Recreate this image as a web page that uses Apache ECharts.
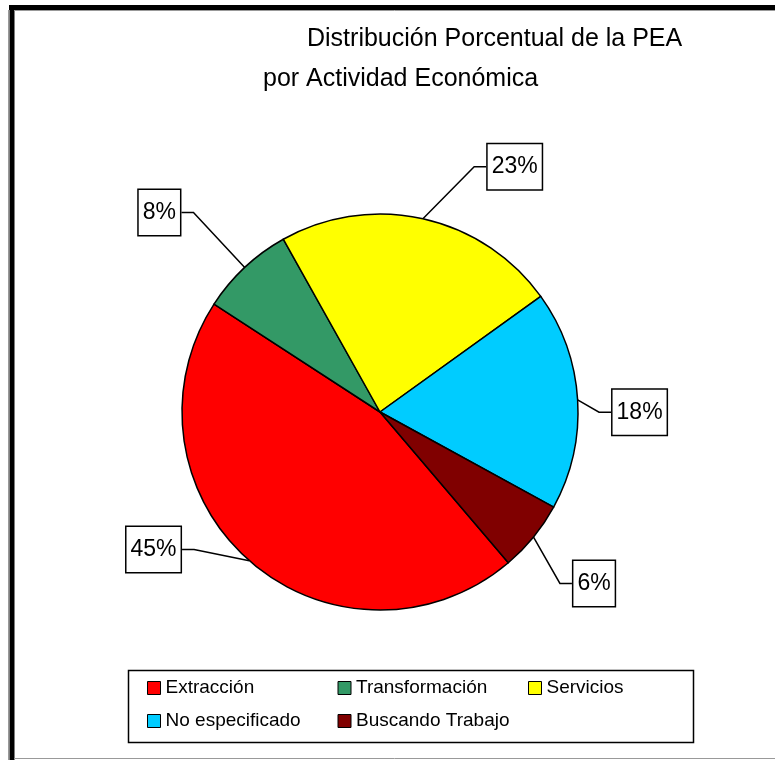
<!DOCTYPE html>
<html>
<head>
<meta charset="utf-8">
<script src="https://cdn.jsdelivr.net/npm/echarts@6/dist/echarts.min.js"></script>
<style>
html,body{margin:0;padding:0;background:#fff;}
#c{width:775px;height:760px;}
</style>
</head>
<body>
<div id="c"></div>
<script>
var categories = ['Extracción', 'Transformación', 'Servicios', 'No especificado', 'Buscando Trabajo'];
var values = [45.4, 7.7, 23.2, 17.9, 5.8];
var colors = ['#FF0000', '#339966', '#FFFF00', '#00CCFF', '#800000'];
var titleLines = ['Distribución Porcentual de la PEA', 'por Actividad Económica'];
// label nudges (px) relative to the library's default outside label placement
var labelNudge = [[-22, -45], [-17, -22], [38, -8], [-27, 15], [-12, 18]];
var elbow = 12;

var FONT = '"Liberation Sans Narrow", "Arial Narrow", "Liberation Sans", Arial, sans-serif';

var data = categories.map(function (c, i) {
  return { name: c, value: values[i], itemStyle: { color: colors[i] } };
});

var chart = echarts.init(document.getElementById('c'), null, { renderer: 'canvas' });
chart.setOption({
  backgroundColor: '#fff',
  animation: false,
  title: [
    { text: titleLines[0], left: 307, top: 27, padding: 0,
      textStyle: { fontFamily: FONT, fontSize: 25, fontWeight: 'normal', color: '#000' } },
    { text: titleLines[1], left: 263, top: 67, padding: 0,
      textStyle: { fontFamily: FONT, fontSize: 25, fontWeight: 'normal', color: '#000' } }
  ],
  legend: {
    data: categories,
    left: 147, top: 678, width: 560,
    padding: 0,
    itemGap: 13,
    itemWidth: 13, itemHeight: 13,
    icon: 'rect',
    itemStyle: { borderColor: '#000', borderWidth: 1 },
    textStyle: { fontFamily: FONT, fontSize: 19, color: '#000', width: 159, lineHeight: 20 },
    selectedMode: false
  },
  graphic: [
    { type: 'line', shape: { x1: 9, y1: 7.5, x2: 775, y2: 7.5 }, style: { stroke: '#000', lineWidth: 5 } },
    { type: 'line', shape: { x1: 12, y1: 5, x2: 12, y2: 760 }, style: { stroke: '#000', lineWidth: 5 } },
    { type: 'line', shape: { x1: 14, y1: 10.5, x2: 775, y2: 10.5 }, style: { stroke: '#999', lineWidth: 1 } },
    { type: 'line', shape: { x1: 8.5, y1: 10, x2: 8.5, y2: 760 }, style: { stroke: '#999', lineWidth: 1 } },
    { type: 'line', shape: { x1: 14, y1: 758.5, x2: 775, y2: 758.5 }, style: { stroke: '#999', lineWidth: 1 } },
    { type: 'rect', shape: { x: 128.5, y: 670.5, width: 565, height: 72 }, style: { fill: 'none', stroke: '#000', lineWidth: 1.5 }, z: 10 }
  ],
  series: [{
    type: 'pie',
    center: [380, 412],
    radius: 198,
    startAngle: -49.6,
    clockwise: true,
    avoidLabelOverlap: false,
    data: data,
    itemStyle: { borderColor: '#000', borderWidth: 1.5 },
    emphasis: { disabled: true },
    label: {
      show: true,
      position: 'outside',
      formatter: function (p) { return Math.round(p.value) + '%'; },
      fontFamily: FONT, fontSize: 23, color: '#000',
      backgroundColor: '#fff',
      borderColor: '#000', borderWidth: 1.5,
      padding: [12, 4, 10, 4]
    },
    labelLine: {
      show: true, length: 45, length2: 12,
      lineStyle: { color: '#000', width: 1.5 }
    },
    labelLayout: function (p) {
      var n = labelNudge[p.dataIndex];
      var r = p.labelRect;
      var start = p.labelLinePoints ? p.labelLinePoints[0] : [r.x, r.y];
      var rightSide = start[0] < r.x + r.width / 2;
      var ex = rightSide ? r.x + n[0] : r.x + r.width + n[0];
      var ey = r.y + r.height / 2 + n[1];
      var mx = rightSide ? ex - elbow : ex + elbow;
      return {
        dx: n[0], dy: n[1],
        labelLinePoints: [start, [mx, ey], [ex, ey]]
      };
    }
  }]
});
</script>
</body>
</html>
